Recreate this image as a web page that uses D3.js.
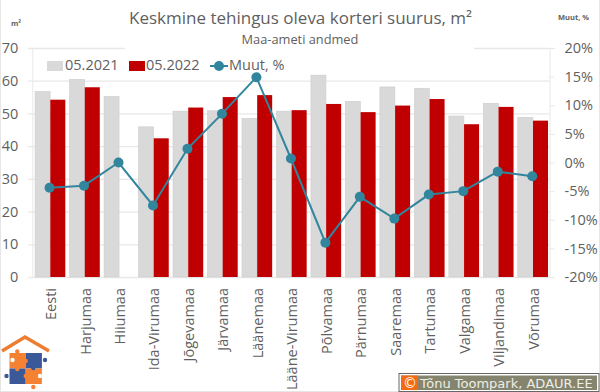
<!DOCTYPE html>
<html>
<head>
<meta charset="utf-8">
<script src="https://cdnjs.cloudflare.com/ajax/libs/d3/7.8.5/d3.min.js"></script>
<style>
  html, body { margin: 0; padding: 0; background: #fff; }
  text { font-family: "Open Sans", sans-serif; fill: #5f5f5f; }
</style>
</head>
<body>
<div id="chart"></div>
<script>
let categories = ["Eesti", "Harjumaa", "Hiiumaa", "Ida-Virumaa", "Jõgevamaa", "Järvamaa", "Läänemaa",
  "Lääne-Virumaa", "Põlvamaa", "Pärnumaa", "Saaremaa", "Tartumaa", "Valgamaa", "Viljandimaa", "Võrumaa"]
let values2021 = [56.7, 60.4, 55.2, 45.9, 50.7, 50.8, 48.5, 50.7, 61.7, 53.7, 58.1, 57.7, 49.2, 53.1, 48.8]
let values2022 = [54.2, 58, null, 42.4, 51.8, 55, 55.6, 51, 52.9, 50.4, 52.4, 54.4, 46.7, 52, 47.8]
let change = [-4.4, -4.05, 0, -7.5, 2.4, 8.5, 14.9, 0.7, -14, -6, -9.8, -5.6, -5, -1.6, -2.4]
let leftTicks = [0, 10, 20, 30, 40, 50, 60, 70]
let rightTicks = [-20, -15, -10, -5, 0, 5, 10, 15, 20]

let
  width = 600,
  height = 392,
  plotLeft = 32.3,
  plotRight = 549.5,
  plotTop = 48,
  plotBottom = 277

let svg = d3.select("#chart")
  .append("svg")
    .attr("width", width)
    .attr("height", height)
    .style("display", "block")

let
  xScale = d3.scaleBand().domain(categories).range([plotLeft, plotRight]),
  yScale = d3.scaleLinear().domain([0, 70]).range([plotBottom, plotTop]),
  yRight = d3.scaleLinear().domain([-20, 20]).range([plotBottom, plotTop])

// picture frame
svg.append("rect").attr("x", 0).attr("y", 0).attr("width", 1).attr("height", height).attr("fill", "#e6e6e6")
svg.append("rect").attr("x", 599).attr("y", 0).attr("width", 1).attr("height", height).attr("fill", "#e6e6e6")
svg.append("rect").attr("x", 0).attr("y", 391).attr("width", width).attr("height", 1).attr("fill", "#e6e6e6")

// gridlines
svg.selectAll(".grid")
  .data(leftTicks)
  .enter()
  .append("line")
  .attr("x1", plotLeft - 4)
  .attr("x2", plotRight)
  .attr("y1", d => yScale(d) + 0.5)
  .attr("y2", d => yScale(d) + 0.5)
  .attr("stroke", "#e8e8e8")
  .attr("stroke-width", 1.3)

// the title box hides the top gridline
svg.append("rect")
  .attr("x", 125).attr("y", 40)
  .attr("width", 349).attr("height", 16)
  .attr("fill", "#fff")

// bars
let barWidth = 15
svg.selectAll(".bar2021")
  .data(categories)
  .enter()
  .append("rect")
  .attr("x", d => xScale(d) + 2.8)
  .attr("y", (d, i) => yScale(values2021[i]))
  .attr("width", barWidth)
  .attr("height", (d, i) => plotBottom - yScale(values2021[i]))
  .attr("fill", "#d9d9d9")
  .attr("stroke", "#cccccc")
  .attr("stroke-width", 0.6)

svg.selectAll(".bar2022")
  .data(categories.filter((d, i) => values2022[i] !== null))
  .enter()
  .append("rect")
  .attr("x", d => xScale(d) + 18)
  .attr("y", d => yScale(values2022[categories.indexOf(d)]))
  .attr("width", barWidth)
  .attr("height", d => plotBottom - yScale(values2022[categories.indexOf(d)]))
  .attr("fill", "#c00000")

// left axis
let leftAxis = d3.axisLeft(yScale).tickValues(leftTicks).tickSize(0).tickPadding(14)
let leftG = svg.append("g").attr("transform", "translate(" + plotLeft + ",0)").call(leftAxis)
leftG.select(".domain").attr("stroke", "#e8e8e8")
leftG.selectAll("text").style("font-size", "14.5px")

// right axis
let rightAxis = d3.axisRight(yRight).tickValues(rightTicks).tickFormat(d => d + "%").tickSize(5).tickPadding(10)
let rightG = svg.append("g").attr("transform", "translate(" + plotRight + ",0)").call(rightAxis)
rightG.select(".domain").attr("stroke", "#e8e8e8")
rightG.selectAll("line").attr("stroke", "#e8e8e8")
rightG.selectAll("text").style("font-size", "14.5px")

// category labels
svg.selectAll(".cat")
  .data(categories)
  .enter()
  .append("text")
  .attr("transform", d => "translate(" + (xScale(d) + xScale.bandwidth() / 2 + 6.5) + ",288) rotate(-90)")
  .attr("text-anchor", "end")
  .style("font-size", "14.5px")
  .text(d => d)

// line
let line = d3.line()
  .x(d => xScale(d) + xScale.bandwidth() / 2)
  .y((d, i) => yRight(change[i]))

svg.append("path")
  .attr("d", line(categories))
  .attr("fill", "none")
  .attr("stroke", "#31859c")
  .attr("stroke-width", 2)

svg.selectAll(".pt")
  .data(categories)
  .enter()
  .append("circle")
  .attr("cx", d => xScale(d) + xScale.bandwidth() / 2)
  .attr("cy", (d, i) => yRight(change[i]))
  .attr("r", 5)
  .attr("fill", "#31859c")

// titles
svg.append("text")
  .attr("x", 300.5).attr("y", 24)
  .attr("text-anchor", "middle")
  .style("font-size", "17px")
  .text("Keskmine tehingus oleva korteri suurus, m²")
svg.append("text")
  .attr("x", 300).attr("y", 44)
  .attr("text-anchor", "middle")
  .style("font-size", "12.8px")
  .text("Maa-ameti andmed")
svg.append("text")
  .attr("x", 11).attr("y", 26)
  .style("font-size", "7.5px").style("font-weight", "bold")
  .text("m²")
svg.append("text")
  .attr("x", 558).attr("y", 20)
  .style("font-size", "7.5px").style("font-weight", "bold")
  .text("Muut, %")

// legend
svg.append("rect").attr("x", 47).attr("y", 61).attr("width", 16).attr("height", 10).attr("fill", "#d9d9d9")
svg.append("text").attr("x", 65).attr("y", 70).style("font-size", "14.5px").text("05.2021")
svg.append("rect").attr("x", 129).attr("y", 61).attr("width", 16).attr("height", 10).attr("fill", "#c00000")
svg.append("text").attr("x", 146).attr("y", 70).style("font-size", "14.5px").text("05.2022")
svg.append("line").attr("x1", 210).attr("x2", 228).attr("y1", 66).attr("y2", 66).attr("stroke", "#31859c").attr("stroke-width", 2)
svg.append("circle").attr("cx", 219).attr("cy", 66).attr("r", 5).attr("fill", "#31859c")
svg.append("text").attr("x", 229).attr("y", 70).style("font-size", "14.5px").text("Muut, %")

// logo: roof and four puzzle pieces
let orange = "#f58233", blue = "#3b5998"
svg.append("path").attr("d", "M2,351 L25,337 L49,351").attr("fill", "none").attr("stroke", "#ed7d31").attr("stroke-width", 3.5)
let pieces = [[9.5, 353, orange], [25.7, 353, blue], [9.5, 368.5, blue], [25.7, 368.5, orange]]
pieces.forEach(p => {
  svg.append("rect").attr("x", p[0]).attr("y", p[1]).attr("width", 16.2).attr("height", 15.5).attr("fill", p[2])
})
let knobs = [[17.3, 351.5, orange], [45, 360, blue], [6.5, 376, blue], [33.3, 387, orange],
  [12.5, 360, "#fff"], [40, 376, "#fff"], [17.3, 369, orange], [33.3, 368, blue], [25.7, 361, orange], [25.7, 376, orange]]
knobs.forEach(k => {
  svg.append("circle").attr("cx", k[0]).attr("cy", k[1]).attr("r", 2.2).attr("fill", k[2])
})

// copyright badge
svg.append("rect").attr("x", 399).attr("y", 373.5).attr("width", 200).attr("height", 18).attr("fill", "#fff").attr("stroke", "#666").attr("stroke-width", 1)
svg.append("rect").attr("x", 401).attr("y", 375.5).attr("width", 196).attr("height", 14.5).attr("fill", "#85856f")
svg.append("rect").attr("x", 401).attr("y", 375.5).attr("width", 17).attr("height", 14.5).attr("fill", "#f26a12")
svg.append("text").attr("x", 403).attr("y", 388).style("font-family", "'DejaVu Sans'").style("font-size", "14px").style("fill", "#fff").text("©")
svg.append("text").attr("x", 420).attr("y", 388).style("font-family", "'DejaVu Sans'").style("font-size", "13px").style("fill", "#eeeee6").text("Tõnu Toompark, ADAUR.EE")
</script>
</body>
</html>
